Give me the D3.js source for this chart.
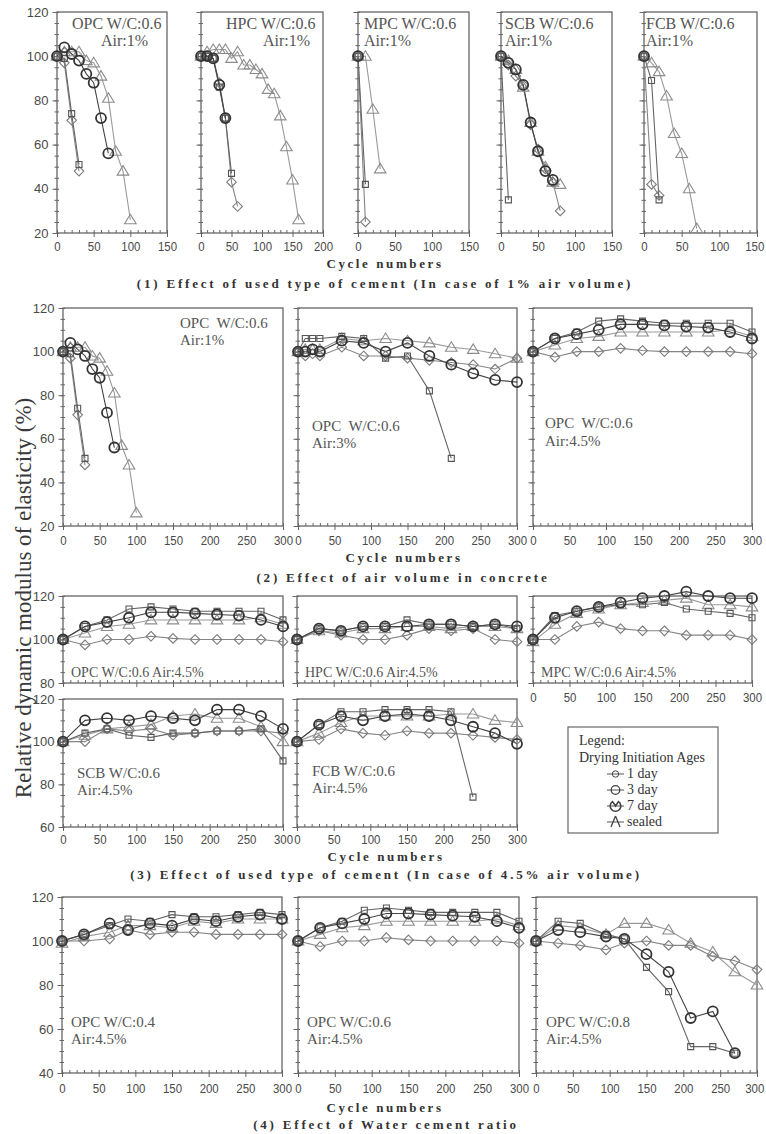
<!DOCTYPE html>
<html>
<head>
<meta charset="utf-8">
<script src="https://cdn.jsdelivr.net/npm/d3@7"></script>
<style>
  body { margin: 0; background: #fff; }
  svg text { white-space: pre; }
</style>
</head>
<body>
<svg id="chart" width="766" height="1134"></svg>
<script>
// ---------- data: [cycle number, relative dynamic modulus (%)] ----------
// Series: day1 / day3 / day7 = drying initiation age, sealed = sealed curing

// OPC W/C 0.6, air 1%
const opcA1Day1   = [[0,100],[10,97],[20,71],[30,48]];
const opcA1Day3   = [[0,100],[10,99],[20,74],[30,51]];
const opcA1Day7   = [[0,100],[10,104],[20,101],[30,98],[40,92],[50,88],[60,72],[70,56]];
const opcA1Sealed = [[0,100],[10,102],[20,102],[30,102],[40,98],[50,97],[60,91],[70,81],[80,57],[90,48],[100,26]];

// HPC W/C 0.6, air 1%
const hpcA1Day1   = [[0,100],[10,100],[20,99],[30,88],[40,72],[50,43],[60,32]];
const hpcA1Day3   = [[0,100],[10,100],[20,99],[30,86],[40,72],[50,47]];
const hpcA1Day7   = [[0,100],[10,100],[20,99],[30,87],[40,72]];
const hpcA1Sealed = [[0,100],[10,102],[20,103],[30,103],[40,103],[50,99],[60,102],[70,96],[80,96],[90,94],[100,92],[110,85],[120,83],[130,73],[140,59],[150,44],[160,26]];

// MPC W/C 0.6, air 1%
const mpcA1Day1   = [[0,100],[10,25]];
const mpcA1Day3   = [[0,100],[10,42]];
const mpcA1Day7   = [[0,100]];
const mpcA1Sealed = [[0,100],[10,100],[20,76],[30,49]];

// SCB W/C 0.6, air 1%
const scbA1Day1   = [[0,100],[10,96],[20,91],[30,87],[40,69],[50,58],[60,49],[70,43],[80,30]];
const scbA1Day3   = [[0,100],[10,35]];
const scbA1Day7   = [[0,100],[10,97],[20,94],[30,87],[40,70],[50,57],[60,48],[70,44]];
const scbA1Sealed = [[0,100],[10,98],[20,94],[30,86],[40,70],[50,57],[60,50],[70,43],[80,42]];

// FCB W/C 0.6, air 1%
const fcbA1Day1   = [[0,100],[10,42],[20,37]];
const fcbA1Day3   = [[0,100],[10,89],[20,35]];
const fcbA1Day7   = [[0,100]];
const fcbA1Sealed = [[0,100],[10,97],[20,93],[30,82],[40,65],[50,56],[60,40],[70,22]];

// OPC W/C 0.6, air 3%
const opcA3Day1   = [[0,100],[10,98],[20,99],[30,98],[60,102],[90,98],[120,98],[150,97],[180,96],[210,95],[240,94],[270,92],[300,97]];
const opcA3Day3   = [[0,100],[10,106],[20,106],[30,106],[60,107],[90,106],[120,97],[150,98],[180,82],[210,51]];
const opcA3Day7   = [[0,100],[10,100],[20,101],[30,100],[60,105],[90,104],[120,100],[150,104],[180,98],[210,94],[240,90],[270,87],[300,86]];
const opcA3Sealed = [[0,100],[10,101],[20,101],[30,101],[60,106],[90,105],[120,106],[150,105],[180,104],[210,102],[240,101],[270,99],[300,97]];

// air 4.5% series share these cycle numbers
const cycles45 = [0,30,60,90,120,150,180,210,240,270,300];

// OPC W/C 0.6, air 4.5%
const opcA45Day1   = [100,97.5,100,100,101.5,100.5,100,100,100,100,99];
const opcA45Day3   = [100,106,109,114,115,114,113,113,113,113,109];
const opcA45Day7   = [100,106,108,110,112.5,112.5,112,111.5,111,109,106];
const opcA45Sealed = [100,103,106,107,109,109,109,109,109,110,107];

// HPC W/C 0.6, air 4.5%
const hpcA45Day1   = [100,104,102,100,100,102,105,104,105,100,99];
const hpcA45Day3   = [100,105,104,106,106,109,107,107,106,107,105];
const hpcA45Day7   = [100,105,104,106,106,106,107,107,106,107,106];
const hpcA45Sealed = [100,104,103,105,105,106,106,105,106,106,105];

// MPC W/C 0.6, air 4.5%
const mpcA45Day1   = [100,100,106,108,105,104,104,102,102,102,100];
const mpcA45Day3   = [100,111,113,115,116,116,117,114,113,112,110];
const mpcA45Day7   = [100,110,113,115,117,119,120,122,120,119,119];
const mpcA45Sealed = [99,107,112,114,116,117,118,119,116,116,115];

// SCB W/C 0.6, air 4.5%
const scbA45Day1   = [100,100,106,105,106,103,104,105,105,105,104];
const scbA45Day3   = [100,104,106,103,102,104,104,105,105,106,91];
const scbA45Day7   = [100,110,111,110,112,111,110,115,115,112,106];
const scbA45Sealed = [100,103,106,107,108,112,113,111,111,107,100];

// FCB W/C 0.6, air 4.5%
const fcbA45Day1   = [100,101,106,104,103,105,104,104,103,102,101];
const fcbA45Day3   = [100,108,114,114,115,115,115,114,74];
const fcbA45Day7   = [100,108,112,110,112,113,112,110,107,104,99];
const fcbA45Sealed = [100,104,109,112,112,112,112,113,113,110,109];

// OPC W/C 0.4, air 4.5%
const cyclesWc04 = [0,30,65,90,120,150,180,210,240,270,300];
const wc04Day1   = [100,100,101,105,103,104,104,103,103,103,103];
const wc04Day3   = [100,103,107,110,109,112,111,111,112,113,112];
const wc04Day7   = [100,103,108,105,108,107,110,109,111,112,110];
const wc04Sealed = [99,102,104,107,107,106,109,108,110,110,110];

// OPC W/C 0.8, air 4.5%
const cyclesWc08 = [0,30,60,95,120,150,180,210,240,270,300];
const wc08Day1   = [100,99,98,96,99,100,98,98,93,91,87];
const wc08Day3   = [100,109,108,103,101,88,77,52,52,49];
const wc08Day7   = [100,105,104,102,101,94,86,65,68,49];
const wc08Sealed = [100,107,106,103,108,108,105,99,95,86,80];

const legendLabels = ["1 day", "3 day", "7 day", "sealed"];

// ---------- helpers ----------
const pair = (cyc, vals) => vals.map((v, i) => [cyc[i], v]);

const svg = d3.select("#chart");
const W = +svg.attr("width");
const FRAME = "#666";
const SERIF = "'Liberation Serif','Times New Roman',serif";
const SANS = "'Liberation Sans',Arial,sans-serif";
const X_LABEL_SQUEEZE = 0.88;

const styles = {
  sealed: { shape: "triangle", stroke: "#8c8c8c", line: "#9a9a9a", sw: 1.1 },
  day1:   { shape: "diamond",  stroke: "#7a7a7a", line: "#858585", sw: 1.1 },
  day3:   { shape: "square",   stroke: "#555",    line: "#666",    sw: 1.1 },
  day7:   { shape: "circle",   stroke: "#333",    line: "#444",    sw: 1.8 }
};
const order = ["sealed", "day1", "day3", "day7"];

function markerPath(shape) {
  switch (shape) {
    case "triangle": return "M0,-5.5L5.8,4L-5.8,4Z";
    case "diamond":  return "M0,-4.8L4.8,0L0,4.8L-4.8,0Z";
    case "square":   return "M-3,-3H3V3H-3Z";
    default:         return d3.arc()({ innerRadius: 0, outerRadius: 5, startAngle: 0, endAngle: 2 * Math.PI });
  }
}

function drawPanel(p) {
  const x = d3.scaleLinear().domain([0, p.xMax]).range([p.left, p.right]);
  const y = d3.scaleLinear().domain([p.yMin, p.yMax]).range([p.bottom, p.top]);
  const g = svg.append("g");

  g.append("rect")
    .attr("x", p.left).attr("y", p.top)
    .attr("width", p.right - p.left).attr("height", p.bottom - p.top)
    .attr("fill", "none").attr("stroke", FRAME).attr("stroke-width", 1.3);

  // x axis: inward minor ticks every 10 cycles, outward majors every 50
  const xMinor = d3.range(0, p.xMax + 0.1, 10);
  const xMajor = d3.range(0, p.xMax + 0.1, 50);
  g.append("g").attr("transform", `translate(0,${p.bottom})`)
    .call(d3.axisBottom(x).tickValues(xMinor).tickSize(-3).tickFormat(""))
    .call(s => s.select(".domain").remove());
  const xa = d3.axisBottom(x).tickValues(xMajor).tickSizeInner(4).tickSizeOuter(0).tickPadding(p.xPad || 5);
  if (!p.xLabels) xa.tickFormat("");
  const xAxisG = g.append("g").attr("transform", `translate(0,${p.bottom})`)
    .call(xa)
    .call(s => s.select(".domain").remove());

  // y axis: minor every 5, majors every 20
  const yMinor = d3.range(p.yMin, p.yMax + 0.1, 5);
  const yMajor = d3.range(p.yMin, p.yMax + 0.1, 20);
  g.append("g").attr("transform", `translate(${p.left},0)`)
    .call(d3.axisLeft(y).tickValues(yMinor).tickSize(2.5).tickFormat(""))
    .call(s => s.select(".domain").remove());
  g.append("g").attr("transform", `translate(${p.left},0)`)
    .call(d3.axisLeft(y).tickValues(yMinor).tickSize(-2).tickFormat(""))
    .call(s => s.select(".domain").remove());
  const ya = d3.axisLeft(y).tickValues(yMajor).tickSizeInner(4.5).tickSizeOuter(0).tickPadding(4);
  if (!p.yLabels) ya.tickFormat("");
  g.append("g").attr("transform", `translate(${p.left},0)`)
    .call(ya)
    .call(s => s.select(".domain").remove());

  g.selectAll(".tick line").attr("stroke", FRAME).attr("stroke-width", 1);
  g.selectAll(".tick text")
    .attr("fill", "#4a4a4a")
    .style("font-family", SANS)
    .style("font-size", "13px");

  // cycle labels are set slightly condensed; keep the last one inside the page
  xAxisG.selectAll(".tick text")
    .attr("transform", `scale(${X_LABEL_SQUEEZE},1)`)
    .each(function () {
      const r = this.getBoundingClientRect();
      const over = r.right - (W - 1.5);
      if (over > 0) d3.select(this).attr("x", -over / X_LABEL_SQUEEZE);
    });

  // series: lines, then markers on top
  const line = d3.line().x(d => x(d[0])).y(d => y(d[1]));
  order.forEach(k => {
    const data = p.series[k];
    if (!data || data.length === 0) return;
    const st = styles[k];
    g.append("path").datum(data)
      .attr("d", line)
      .attr("fill", "none")
      .attr("stroke", st.line)
      .attr("stroke-width", 1.1);
  });
  order.forEach(k => {
    const data = p.series[k];
    if (!data || data.length === 0) return;
    const st = styles[k];
    g.selectAll(null).data(data).join("path")
      .attr("transform", d => `translate(${x(d[0])},${y(d[1])})`)
      .attr("d", markerPath(st.shape))
      .attr("fill", "none")
      .attr("stroke", st.stroke)
      .attr("stroke-width", st.sw);
  });

  (p.texts || []).forEach(t => {
    g.append("text")
      .attr("x", t.x).attr("y", t.y)
      .attr("fill", "#555")
      .style("font-family", SERIF)
      .style("font-size", (t.size || 14) + "px")
      .text(t.s);
  });
}

function series(d1, d3_, d7, se) {
  return { day1: d1, day3: d3_, day7: d7, sealed: se };
}
function series45(cyc, d1, d3_, d7, se) {
  return series(pair(cyc, d1), pair(cyc, d3_), pair(cyc, d7), pair(cyc, se));
}

const opcA1 = series(opcA1Day1, opcA1Day3, opcA1Day7, opcA1Sealed);
const opcA45 = series45(cycles45, opcA45Day1, opcA45Day3, opcA45Day7, opcA45Sealed);

// ---------- (1) cement type, air 1% ----------
const s1 = { top: 12, bottom: 233, yMin: 20, yMax: 120, xPad: 5 };
[
  { left: 57,  right: 167, xMax: 150, yLabels: true, series: opcA1,
    texts: [{ s: "OPC W/C:0.6", x: 72, y: 29, size: 16 }, { s: "Air:1%", x: 101, y: 46, size: 16 }] },
  { left: 201, right: 323, xMax: 200, series: series(hpcA1Day1, hpcA1Day3, hpcA1Day7, hpcA1Sealed),
    texts: [{ s: "HPC W/C:0.6", x: 226, y: 29, size: 16 }, { s: "Air:1%", x: 263, y: 46, size: 16 }] },
  { left: 358, right: 469, xMax: 150, series: series(mpcA1Day1, mpcA1Day3, mpcA1Day7, mpcA1Sealed),
    texts: [{ s: "MPC W/C:0.6", x: 364, y: 29, size: 16 }, { s: "Air:1%", x: 364, y: 46, size: 16 }] },
  { left: 501, right: 612, xMax: 150, series: series(scbA1Day1, scbA1Day3, scbA1Day7, scbA1Sealed),
    texts: [{ s: "SCB W/C:0.6", x: 505, y: 29, size: 16 }, { s: "Air:1%", x: 505, y: 46, size: 16 }] },
  { left: 644, right: 757, xMax: 150, series: series(fcbA1Day1, fcbA1Day3, fcbA1Day7, fcbA1Sealed),
    texts: [{ s: "FCB W/C:0.6", x: 646, y: 29, size: 16 }, { s: "Air:1%", x: 646, y: 46, size: 16 }] }
].forEach(p => drawPanel(Object.assign({ xLabels: true }, s1, p)));

// ---------- (2) air volume ----------
const s2 = { top: 308, bottom: 526, yMin: 20, yMax: 120, xMax: 300, xLabels: true, xPad: 6 };
[
  { left: 63, right: 283, yLabels: true, series: opcA1,
    texts: [{ s: "OPC  W/C:0.6", x: 180, y: 328, size: 15 }, { s: "Air:1%", x: 180, y: 345, size: 15 }] },
  { left: 298, right: 517, series: series(opcA3Day1, opcA3Day3, opcA3Day7, opcA3Sealed),
    texts: [{ s: "OPC  W/C:0.6", x: 312, y: 431, size: 15 }, { s: "Air:3%", x: 312, y: 448, size: 15 }] },
  { left: 533, right: 752, series: opcA45,
    texts: [{ s: "OPC  W/C:0.6", x: 545, y: 428, size: 15 }, { s: "Air:4.5%", x: 545, y: 446, size: 15 }] }
].forEach(p => drawPanel(Object.assign({}, s2, p)));

// ---------- (3) cement type, air 4.5% ----------
const s3top = { top: 596, bottom: 683, yMin: 80, yMax: 120, xMax: 300, xPad: 6 };
[
  { left: 63, right: 283, yLabels: true, series: opcA45,
    texts: [{ s: "OPC W/C:0.6 Air:4.5%", x: 71, y: 677 }] },
  { left: 297, right: 517, series: series45(cycles45, hpcA45Day1, hpcA45Day3, hpcA45Day7, hpcA45Sealed),
    texts: [{ s: "HPC W/C:0.6 Air:4.5%", x: 305, y: 677 }] },
  { left: 533, right: 752, xLabels: true, series: series45(cycles45, mpcA45Day1, mpcA45Day3, mpcA45Day7, mpcA45Sealed),
    texts: [{ s: "MPC W/C:0.6 Air:4.5%", x: 541, y: 677 }] }
].forEach(p => drawPanel(Object.assign({}, s3top, p)));

const s3bot = { top: 699, bottom: 827, yMin: 60, yMax: 120, xMax: 300, xLabels: true, xPad: 4 };
[
  { left: 63, right: 283, yLabels: true, series: series45(cycles45, scbA45Day1, scbA45Day3, scbA45Day7, scbA45Sealed),
    texts: [{ s: "SCB W/C:0.6", x: 77, y: 778, size: 15 }, { s: "Air:4.5%", x: 77, y: 795, size: 15 }] },
  { left: 297, right: 517, series: series45(cycles45, fcbA45Day1, fcbA45Day3, fcbA45Day7, fcbA45Sealed),
    texts: [{ s: "FCB W/C:0.6", x: 312, y: 776, size: 15 }, { s: "Air:4.5%", x: 312, y: 793, size: 15 }] }
].forEach(p => drawPanel(Object.assign({}, s3bot, p)));

// ---------- (4) water-cement ratio ----------
const s4 = { top: 897, bottom: 1073, yMin: 40, yMax: 120, xMax: 300, xLabels: true, xPad: 7 };
[
  { left: 62, right: 282, yLabels: true, series: series45(cyclesWc04, wc04Day1, wc04Day3, wc04Day7, wc04Sealed),
    texts: [{ s: "OPC W/C:0.4", x: 71, y: 1027, size: 15 }, { s: "Air:4.5%", x: 71, y: 1044, size: 15 }] },
  { left: 298, right: 519, series: opcA45,
    texts: [{ s: "OPC W/C:0.6", x: 307, y: 1027, size: 15 }, { s: "Air:4.5%", x: 307, y: 1044, size: 15 }] },
  { left: 536, right: 757, series: series45(cyclesWc08, wc08Day1, wc08Day3, wc08Day7, wc08Sealed),
    texts: [{ s: "OPC W/C:0.8", x: 546, y: 1027, size: 15 }, { s: "Air:4.5%", x: 546, y: 1044, size: 15 }] }
].forEach(p => drawPanel(Object.assign({}, s4, p)));

// ---------- axis titles and captions ----------
function bold(s, x, y, ls) {
  svg.append("text")
    .attr("x", x).attr("y", y)
    .attr("text-anchor", "middle")
    .attr("fill", "#333")
    .style("font-family", SERIF)
    .style("font-weight", "bold")
    .style("font-size", "13px")
    .style("letter-spacing", ls + "px")
    .text(s);
}
bold("Cycle numbers", 385, 268, 2.6);
bold("(1) Effect of used type of cement (In case of 1% air volume)", 385, 288, 2.8);
bold("Cycle numbers", 404, 562, 2.6);
bold("(2) Effect of air volume in concrete", 403, 582, 2.8);
bold("Cycle numbers", 386, 861, 2.6);
bold("(3) Effect of used type of cement (In case of 4.5% air volume)", 386, 879, 2.8);
bold("Cycle numbers", 385, 1112, 2.6);
bold("(4) Effect of Water cement ratio", 386, 1129, 2.8);

svg.append("text")
  .attr("transform", "translate(31,598) rotate(-90)")
  .attr("text-anchor", "middle")
  .attr("fill", "#3a3a3a")
  .style("font-family", SERIF)
  .style("font-size", "23px")
  .text("Relative dynamic modulus of elasticity (%)");

// ---------- legend ----------
const lg = svg.append("g");
lg.append("rect").attr("x", 568).attr("y", 727).attr("width", 150).attr("height", 106)
  .attr("fill", "#fff").attr("stroke", FRAME).attr("stroke-width", 1.2);
[["Legend:", 745], ["Drying Initiation Ages", 762]].forEach(([s, yy]) => {
  lg.append("text").attr("x", 579).attr("y", yy).attr("fill", "#333")
    .style("font-family", SERIF).style("font-size", "14px").text(s);
});
const legendGlyphs = [
  { d: d3.arc()({ innerRadius: 0, outerRadius: 3.2, startAngle: 0, endAngle: 2 * Math.PI }), sw: 1 },
  { d: d3.arc()({ innerRadius: 0, outerRadius: 4.3, startAngle: 0, endAngle: 2 * Math.PI }), sw: 1.3 },
  { d: d3.arc()({ innerRadius: 0, outerRadius: 5.3, startAngle: 0.6, endAngle: 2 * Math.PI - 0.6 }), sw: 1.6 },
  { d: "M0,-6L4.5,5M0,-6L-4.5,5", sw: 1.3 }
];
legendLabels.forEach((lab, i) => {
  const yy = 778 + i * 16;
  lg.append("line").attr("x1", 607).attr("x2", 624).attr("y1", yy - 4).attr("y2", yy - 4)
    .attr("stroke", "#555").attr("stroke-width", 1);
  lg.append("path").attr("transform", `translate(615.5,${yy - 4})`).attr("d", legendGlyphs[i].d)
    .attr("fill", "none").attr("stroke", "#444").attr("stroke-width", legendGlyphs[i].sw);
  lg.append("text").attr("x", 627).attr("y", yy).attr("fill", "#333")
    .style("font-family", SERIF).style("font-size", "14px").text(lab);
});
</script>
</body>
</html>
